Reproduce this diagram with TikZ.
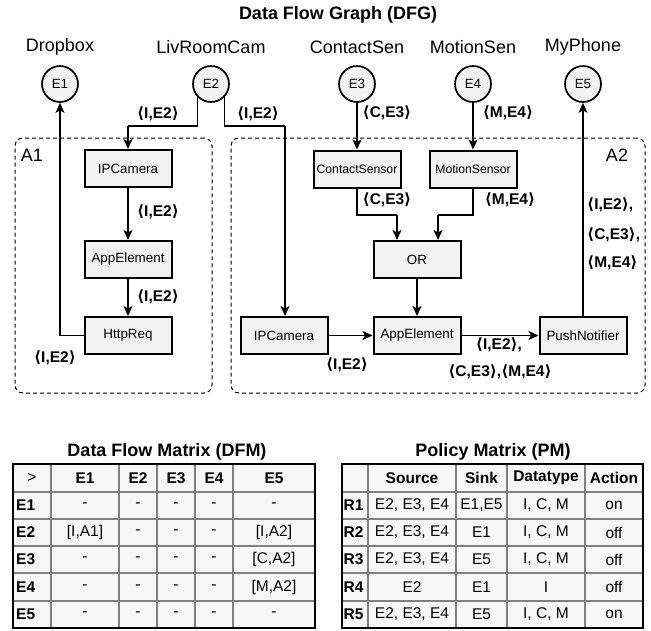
\documentclass[tikz,border=0pt]{standalone}
\usepackage{fontspec}
\setmainfont{Liberation Sans}
\newfontfamily\dvs{DejaVu Sans}
\usetikzlibrary{arrows.meta}
\definecolor{boxfill}{RGB}{242,242,242}
\definecolor{tabfill}{RGB}{247,247,247}
\definecolor{gridc}{RGB}{128,128,128}
\newcommand\ang[1]{{\dvs\bfseries ⟨}#1{\dvs\bfseries ⟩}}
\tikzset{
  ent/.style={circle, draw, line width=1.7pt, fill=boxfill, minimum size=36pt, inner sep=0pt, font=\fontsize{13.4}{15}\selectfont},
  blk/.style={draw, line width=2pt, fill=boxfill, minimum width=87pt, minimum height=37pt, inner sep=0pt, font=\fontsize{13.4}{15}\selectfont},
  sblk/.style={blk, font=\fontsize{12.2}{14}\selectfont},
  con/.style={line width=1.1pt, -{Stealth[length=10pt,width=9pt,inset=2.5pt]}},
  lnk/.style={line width=1.1pt},
  lbl/.style={font=\fontsize{15.5}{18}\selectfont\bfseries, inner sep=0pt},
  ttl/.style={font=\fontsize{18}{20}\selectfont\bfseries, inner sep=0pt},
  entl/.style={font=\fontsize{18}{20}\selectfont, inner sep=0pt},
  cont/.style={draw, dashed, dash pattern=on 4pt off 3pt, line width=1pt, rounded corners=8pt, inner sep=0pt},
  cell/.style={font=\fontsize{15.5}{18}\selectfont, inner sep=0pt},
  hcell/.style={cell, font=\fontsize{15.5}{18}\selectfont\bfseries},
}
\begin{document}
\begin{tikzpicture}[x=1pt, y=-1pt]
\useasboundingbox (0,0) rectangle (651,630);

% title
\node[ttl] (title) at (338,15) {Data Flow Graph (DFG)};

% containers
\node[cont, minimum width=197pt, minimum height=255pt] (A1) at (113.5,265.5) {};
\node[cont, minimum width=414pt, minimum height=255pt] (A2) at (438,265.5) {};
\node[entl] (A1l) at (32,155) {A1};
\node[entl] (A2l) at (617,155) {A2};

% entities
\node[entl] (L1) at (60,47) {Dropbox};
\node[entl] (L2) at (211,47) {LivRoomCam};
\node[entl] (L3) at (357,47) {ContactSen};
\node[entl] (L4) at (473,47) {MotionSen};
\node[entl] (L5) at (583,47) {MyPhone};
\node[ent] (E1) at (60,84) {E1};
\node[ent] (E2) at (211,84) {E2};
\node[ent] (E3) at (357,84) {E3};
\node[ent] (E4) at (473,84) {E4};
\node[ent] (E5) at (583,84) {E5};

% A1 blocks
\node[blk] (IPC1) at (128,168.5) {IPCamera};
\node[blk] (AE1) at (128,259.5) {AppElement};
\node[blk] (HR) at (128,335.5) {HttpReq};

% A2 blocks
\node[sblk] (CS) at (357,169) {ContactSensor};
\node[sblk] (MS) at (473,169) {MotionSensor};
\node[blk] (OR) at (417,259.5) {OR};
\node[blk] (IPC2) at (284,335.5) {IPCamera};
\node[blk] (AE2) at (417,335.5) {AppElement};
\node[blk] (PN) at (583,335.5) {PushNotifier};

% helper coordinates
\coordinate (k1) at (128,126);
\coordinate (k2) at (285,126);
\coordinate (j1) at (397,215);
\coordinate (j2) at (438,215);

% connectors
\draw[con] (HR.west) -| (E1.south);
\draw[lnk] (E2.-135) |- (k1);
\draw[con] (k1) -- (IPC1.north);
\draw[lnk] (E2.-45) |- (k2);
\draw[con] (k2) -- (k2 |- IPC2.north);
\draw[con] (IPC1.south) -- (AE1.north);
\draw[con] (AE1.south) -- (HR.north);
\draw[con] (E3.south) -- (CS.north);
\draw[con] (E4.south) -- (MS.north);
\draw[lnk] (CS.south) |- (j1);
\draw[con] (j1) -- (j1 |- OR.north);
\draw[lnk] (MS.south) |- (j2);
\draw[con] (j2) -- (j2 |- OR.north);
\draw[con] (OR.south) -- (AE2.north);
\draw[con] (IPC2.east) -- (AE2.west);
\draw[con] (AE2.east) -- (PN.west);
\draw[con] (PN.north) -- (E5.south);

% connector labels
\node[lbl] (t1) at (55,358) {\ang{I,E2}};
\node[lbl] (t2) at (158,114) {\ang{I,E2}};
\node[lbl] (t3) at (258,114) {\ang{I,E2}};
\node[lbl] (t4) at (158,212) {\ang{I,E2}};
\node[lbl] (t5) at (158,297) {\ang{I,E2}};
\node[lbl] (t6) at (387,113) {\ang{C,E3}};
\node[lbl] (t7) at (508,113) {\ang{M,E4}};
\node[lbl] (t8) at (387,200) {\ang{C,E3}};
\node[lbl] (t9) at (510,200) {\ang{M,E4}};
\node[lbl] (t10) at (347,365) {\ang{I,E2}};
\node[lbl] (t11) at (499,345) {\ang{I,E2},};
\node[lbl] (t12) at (500,372) {\ang{C,E3},\ang{M,E4}};
\node[lbl, anchor=west] (t13) at (587,205) {\ang{I,E2},};
\node[lbl, anchor=west] (t14) at (587,235) {\ang{C,E3},};
\node[lbl, anchor=west] (t15) at (587,263) {\ang{M,E4}};

% ---------- DFM ----------
\node[ttl] (dfmt) at (167,452) {Data Flow Matrix (DFM)};
\fill[tabfill] (13,464) rectangle (315,628);
\foreach \x in {51,119,157,195,233} \draw[gridc, line width=1.4pt] (\x,464) -- (\x,628);
\foreach \y in {492,519,546,573,601} \draw[gridc, line width=1.4pt] (13,\y) -- (315,\y);
\draw[line width=2pt] (13,464) rectangle (315,628);
\node[cell] (d00) at (32,478) {>};
\foreach \c/\x in {E1/85,E2/138,E3/176,E4/214,E5/274}
  \node[hcell] (dh\c) at (\x,478) {\c};
\foreach \r/\y/\a/\b/\c/\d/\e in {
  E1/505.5/-/-/-/-/-,
  E2/532.5/{[I,A1]}/-/-/-/{[I,A2]},
  E3/559.5/-/-/-/-/{[C,A2]},
  E4/587/-/-/-/-/{[M,A2]},
  E5/614.5/-/-/-/-/-}{
  \node[hcell, anchor=west] (dr\r) at (16,\y) {\r};
  \node[cell] (d\r a) at (85,\y) {\a};
  \node[cell] (d\r b) at (138,\y) {\b};
  \node[cell] (d\r c) at (176,\y) {\c};
  \node[cell] (d\r d) at (214,\y) {\d};
  \node[cell] (d\r e) at (274,\y) {\e};
}

% ---------- PM ----------
\node[ttl] (pmt) at (493,452) {Policy Matrix (PM)};
\fill[tabfill] (342,464) rectangle (643,628);
\foreach \x in {368,456,507,585} \draw[gridc, line width=1.4pt] (\x,464) -- (\x,628);
\foreach \y in {492,519,546,573,601} \draw[gridc, line width=1.4pt] (342,\y) -- (643,\y);
\draw[line width=2pt] (342,464) rectangle (643,628);
\node[hcell] (ph1) at (412,478) {Source};
\node[hcell] (ph2) at (481.5,478) {Sink};
\node[hcell] (ph3) at (546,478) {Datatype};
\node[hcell] (ph4) at (614,478) {Action};
\foreach \r/\y/\a/\b/\c/\d in {
  R1/505.5/{E2, E3, E4}/{E1,E5}/{I, C, M}/on,
  R2/532.5/{E2, E3, E4}/E1/{I, C, M}/off,
  R3/559.5/{E2, E3, E4}/E5/{I, C, M}/off,
  R4/587/E2/E1/I/off,
  R5/614.5/{E2, E3, E4}/E5/{I, C, M}/on}{
  \node[hcell, anchor=west] (pr\r) at (343.5,\y) {\r};
  \node[cell] (p\r a) at (412,\y) {\a};
  \node[cell] (p\r b) at (481.5,\y) {\b};
  \node[cell] (p\r c) at (546,\y) {\c};
  \node[cell] (p\r d) at (614,\y) {\d};
}
\end{tikzpicture}
\end{document}
